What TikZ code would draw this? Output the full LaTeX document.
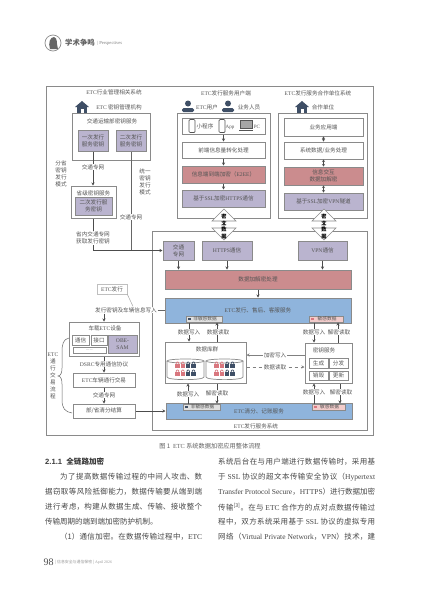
\documentclass[tikz,border=0pt]{standalone}
\usepackage{fontspec}
\setmainfont{Noto Sans CJK SC}
\newfontfamily\latn{Liberation Serif}
\newfontfamily\hdfont{Liberation Sans}
\usetikzlibrary{arrows.meta,positioning,calc,shapes.arrows}
\XeTeXlinebreaklocale "zh"
\XeTeXlinebreakskip=0pt plus 2pt
\definecolor{inkgray}{HTML}{555555}
\definecolor{linegray}{HTML}{8A8A8A}
\definecolor{purplefill}{HTML}{BAB4CF}
\definecolor{redfill}{HTML}{CB8C8E}
\definecolor{bluefill}{HTML}{8FB4DC}
\definecolor{iconblue}{HTML}{3F4F66}
\definecolor{lockred}{HTML}{D9777F}
\definecolor{pinkchip}{HTML}{F2CCCB}
\newcommand{\en}[1]{{\latn #1}}
\newcommand{\jl}[1]{\parfillskip=0pt\tolerance=10000 #1\par}
\newcommand{\houseicon}[2]{
  \fill[iconblue] ({#1-7},{#2}) -- ({#1},{#2-6}) -- ({#1+7},{#2}) -- cycle;
  \fill[iconblue] ({#1-5},{#2}) rectangle ({#1+5},{#2+6});
  \fill[white] ({#1-1.5},{#2+2}) rectangle ({#1+1.5},{#2+6});
}
\newcommand{\personicon}[2]{
  \fill[iconblue] ({#1},{#2-3.5}) circle (3);
  \fill[iconblue, rounded corners=1.5pt] ({#1-6},{#2+5}) -- ({#1-6},{#2+1}) -- ({#1+6},{#2+1}) -- ({#1+6},{#2+5}) -- cycle;
}
\newcommand{\lockicon}[3]{
  \fill[#3] ({#1-2.2},{#2}) rectangle ({#1+2.2},{#2+3.6});
  \draw[#3, line width=.7pt, rounded corners=1pt] ({#1-1.3},{#2}) -- ({#1-1.3},{#2-2}) -- ({#1+1.3},{#2-2}) -- ({#1+1.3},{#2});
}
\tikzset{
  sz/.style 2 args={minimum width=#1pt, minimum height=#2pt},
  every node/.style={inner sep=0pt, text=inkgray, font=\fontsize{5.6}{7}\selectfont, align=center},
  frame/.style={draw=linegray, line width=1pt},
  whitebox/.style={frame, fill=white},
  purplebox/.style={draw=linegray, line width=1pt, fill=purplefill},
  redbox/.style={draw=linegray, line width=1pt, fill=redfill},
  bluebox/.style={draw=linegray, line width=1pt, fill=bluefill},
  chipbox/.style={draw=linegray, line width=.5pt, fill=black!12, font=\fontsize{4.7}{5}\selectfont},
  pinkbox/.style={chipbox, fill=pinkchip},
  tag/.style={fill=white, inner xsep=.6pt, inner ysep=.8pt},
  arr/.style={draw=black!70, line width=.5pt, -{Stealth[length=3pt,width=3pt]}},
  arrboth/.style={draw=black!70, line width=.5pt, {Stealth[length=2.5pt,width=3pt]}-{Stealth[length=2.5pt,width=3pt]}},
  plainline/.style={draw=black!60, line width=.5pt},
  cipher/.style={draw=linegray, line width=.6pt, fill=white, double arrow, shape border rotate=90,
    minimum width=24pt, minimum height=31pt, double arrow head extend=8pt, double arrow head indent=0pt},
  bodytext/.style={anchor=west, text width=157pt, align=justify, text=black!72, font=\fontsize{7.5}{9}\selectfont}
}
\begin{document}
\begin{tikzpicture}[x=1pt, y=-1pt]
  \useasboundingbox[fill=white] (0,0) rectangle (427,603);

  % page head
  \node[circle, draw=black!45, line width=.7pt, minimum size=16pt] (logo) at (53,43) {};
  \fill[black!60] (50,49) .. controls (48,43) and (50,37) .. (54,37) .. controls (58,38) and (56,43) .. (58,49) -- cycle;
  \node[font=\bfseries\fontsize{7.4}{8}\selectfont, text=black!62] (brand) at (80,43) {学术争鸣};
  \node[anchor=west, text=black!50, font=\latn\fontsize{4.6}{5}\selectfont] (brandsub) at (97,43) {| Perspectives};

  % outer frame
  \node[frame, sz={327}{349}] (outer) at (209.5,260.5) {};
  \node (tmgmt) at (114,92) {\en{ETC}行业管理相关系统};
  \node (tuser) at (226,93) {\en{ETC}发行服务用户端};
  \node (tpart) at (318,93) {\en{ETC}发行服务合作单位系统};

  % key management side
  \houseicon{82}{107}
  \node (torg) at (119,107) {\en{ETC} 密钥管理机构};
  \node[frame, sz={78}{47}] (minist) at (111,136.5) {};
  \node (tminist) at (112,121) {交通运输部密钥服务};
  \node[purplebox, sz={30}{21}] (keyone) at (93,140.5) {一次发行\\服务密钥};
  \node[purplebox, sz={30}{21}] (keytwo) at (131,140.5) {二次发行\\服务密钥};
  \node[frame, sz={45}{32}] (prov) at (93.5,202) {};
  \node (tprov) at (93.5,193) {省级密钥服务};
  \node[purplebox, sz={37}{18}] (provkey) at (93.5,206) {二次发行服\\务密钥};

  % user side
  \node[frame, sz={93}{105}] (userbox) at (223.5,165.5) {};
  \personicon{188}{107}
  \node (tetcuser) at (207,107) {\en{ETC}用户};
  \personicon{228}{107}
  \node (tstaff) at (249,107) {业务人员};
  \node[frame, sz={83}{16}] (ui) at (223.5,126) {};
  \node[draw=inkgray, line width=.7pt, rounded corners=1pt, sz={6}{13}] (phonea) at (192,126) {};
  \node (tmini) at (205,126) {小程序};
  \node[draw=inkgray, line width=.7pt, rounded corners=1pt, sz={6}{13}] (phoneb) at (222,126) {};
  \node[font=\latn\fontsize{5}{5}\selectfont] (tapp) at (230,127.5) {App};
  \node[draw=inkgray, line width=.7pt, fill=black!35, sz={12}{8}] (screen) at (246,124.5) {};
  \node[fill=inkgray, sz={14}{1.6}] (kbd) at (246,130.5) {};
  \node[font=\latn\fontsize{5}{5}\selectfont] (tpc) at (257,127) {PC};
  \node[frame, sz={83}{16}] (front) at (223.5,150) {前端信息量转化处理};
  \node[redbox, sz={83}{17}] (etoe) at (223.5,174.5) {信息端到端加密（\en{E2EE}）};
  \node[purplebox, sz={83}{17}] (sslh) at (223.5,198.5) {基于\en{SSL}加密\en{HTTPS}通信};
  \draw[arr] (ui.south) -- (front.north);
  \draw[arr] (front.south) -- (etoe.north);
  \draw[arr] (etoe.south) -- (sslh.north);

  % partner side
  \node[frame, sz={89}{105}] (partbox) at (322.5,165.5) {};
  \houseicon{302}{107}
  \node (tpartner) at (323,107) {合作单位};
  \node[frame, sz={79}{18}] (app) at (323.5,127) {业务应用端};
  \node[frame, sz={79}{17}] (biz) at (323.5,150.5) {系统数据/业务处理};
  \node[redbox, sz={79}{18}] (xchg) at (323.5,176) {信息交互\\数据加解密};
  \node[purplebox, sz={79}{17}] (sslv) at (323.5,201.5) {基于\en{SSL}加密\en{VPN}隧道};
  \draw[arrboth] (app.south) -- (biz.north);
  \draw[arrboth] (biz.south) -- (xchg.north);
  \draw[arrboth] (xchg.south) -- (sslv.north);

  % service system
  \node[frame, sz={215}{199}] (sys) at (259.5,330.5) {};
  \node (tsys) at (256,426) {\en{ETC}发行服务系统};
  \node[cipher] (ciphera) at (224,224.5) {};
  \node[cipher] (cipherb) at (324,224.5) {};
  \node[text=black, font=\bfseries\fontsize{5.2}{6.9}\selectfont] (tciphera) at (224,226.5) {密\\文\\数\\据};
  \node[text=black, font=\bfseries\fontsize{5.2}{6.9}\selectfont] (tcipherb) at (324,226.5) {密\\文\\数\\据};
  \node[purplebox, sz={31}{19}] (net) at (178.5,250.5) {交通\\专网};
  \node[purplebox, sz={50}{19}] (https) at (227,250.5) {\en{HTTPS}通信};
  \node[purplebox, sz={49}{19}] (vpn) at (322.5,250.5) {\en{VPN}通信};
  \node[redbox, sz={186}{19}] (crypt) at (258,279.5) {数据加解密处理};
  \node[bluebox, sz={186}{25}] (svc) at (258,310.5) {};
  \node (tsvc) at (258,310) {\en{ETC}发行、售后、客服服务};
  \node[chipbox, sz={36}{6.5}] (chipna) at (204,319) {\ \ 非敏感数据};
  \node[pinkbox, sz={34}{6.5}] (chipsa) at (326,319) {\ \ 敏感数据};
  \node[whitebox, sz={81}{41}] (db) at (205.5,362.5) {};
  \node (tdb) at (207,349) {数据库群};
  \foreach \cx in {185.5,224.5} {
    \draw[draw=linegray, line width=.7pt, fill=white] ({\cx-18.5},361) -- ({\cx-18.5},377) .. controls ({\cx-18.5},380.5) and ({\cx+18.5},380.5) .. ({\cx+18.5},377) -- ({\cx+18.5},361);
    \draw[draw=linegray, line width=.7pt, fill=white] (\cx,361) ellipse [x radius=18.5, y radius=2];
    \foreach \ly in {364,372} {
      \lockicon{\cx-8}{\ly}{lockred}
      \lockicon{\cx-2.7}{\ly}{lockred}
      \lockicon{\cx+2.7}{\ly}{iconblue}
      \lockicon{\cx+8}{\ly}{iconblue}
    }
  }
  \node[whitebox, sz={47}{40}] (keysvc) at (328.5,363) {};
  \node (tkeysvc) at (324,350) {密钥服务};
  \node[frame, sz={19}{10}] (gen) at (318.5,363) {生成};
  \node[frame, sz={19}{10}] (dist) at (338.5,363) {分发};
  \node[frame, sz={19}{9}] (destroy) at (318.5,375.5) {销毁};
  \node[frame, sz={19}{9}] (renew) at (338.5,375.5) {更新};
  \node[bluebox, sz={186}{16}] (settle) at (259,411) {};
  \node (tsettle) at (259,411.5) {\en{ETC}清分、记账服务};
  \node[chipbox, sz={37}{6.5}] (chipnb) at (201.5,407) {\ \ 非敏感数据};
  \node[pinkbox, sz={33}{6.5}] (chipsb) at (328.5,407) {\ \ 敏感数据};
  \foreach \chipname/\chipcol in {chipna/iconblue,chipsa/lockred,chipnb/iconblue,chipsb/lockred}
    \fill[\chipcol] ([xshift=2pt,yshift=1.2pt]\chipname.west) rectangle +(3,2.6);

  \draw[arr] (net.south) -- (net.south |- crypt.north);
  \draw[arr] (https.south) -- (https.south |- crypt.north);
  \draw[arr] (vpn.south) -- (vpn.south |- crypt.north);
  \draw[arr] (crypt.south) -- (svc.north);
  \draw[arr] ([xshift=-15pt]chipna.south) -- ([xshift=-15pt]chipna.south |- db.north);
  \draw[arr] ([xshift=13pt]chipna.south |- db.north) -- ([xshift=13pt]chipna.south);
  \draw[arr] ([xshift=-12pt]chipsa.south) -- ([xshift=-12pt]chipsa.south |- keysvc.north);
  \draw[arr] ([xshift=12pt]chipsa.south |- keysvc.north) -- ([xshift=12pt]chipsa.south);
  \draw[arr] ([xshift=-13.5pt]chipnb.north) -- ([xshift=-13.5pt]chipnb.north |- db.south);
  \draw[arr] ([xshift=15.5pt]chipnb.north |- db.south) -- ([xshift=15.5pt]chipnb.north);
  \draw[arr] ([xshift=-14.5pt]chipsb.north) -- ([xshift=-14.5pt]chipsb.north |- keysvc.south);
  \draw[arr] ([xshift=11.5pt]chipsb.north |- keysvc.south) -- ([xshift=11.5pt]chipsb.north);
  \draw[arr, draw=black!50, line width=.8pt] ([yshift=8pt]keysvc.west) -- ([yshift=8pt]keysvc.west -| db.east);
  \draw[arr, draw=black!50, line width=.8pt, dashed] ([yshift=-4pt]keysvc.west -| db.east) -- ([yshift=-4pt]keysvc.west);
  \node[tag] (wa) at (189,332) {数据写入};
  \node[tag] (ra) at (218,332) {数据读取};
  \node[tag] (wb) at (314,332) {数据写入};
  \node[tag] (rb) at (339,332) {解密读取};
  \node[tag] (wc) at (188,394) {数据写入};
  \node[tag] (rc) at (217,393) {解密读取};
  \node[tag] (wd) at (314,392) {数据写入};
  \node[tag] (rd) at (341,392) {解密读取};
  \node[tag] (encw) at (275,355) {加密写入};
  \node[tag] (datr) at (275,367) {数据读取};

  % connectors on the left
  \draw[arr] (keyone.south) -- (keyone.south |- prov.north);
  \draw[plainline] (keytwo.south) -- (keytwo.south |- net.west);
  \draw[arr] (prov.south) -- (prov.south |- net.west) -- (net.west);
  \node[tag] (netone) at (93,167) {交通专网};
  \node[tag] (nettwo) at (131,217) {交通专网};
  \node[tag] (getkey) at (93,238) {省内交通专网\\获取发行密钥};
  \node (tmodea) at (61,174) {分省\\密钥\\发行\\模式};
  \node (tmodeb) at (145,182) {统一\\密钥\\发行\\模式};

  % vehicle side
  \node[draw=black!25, line width=.7pt, sz={30}{10}] (issue) at (112,289) {\en{ETC}发行};
  \node[tag] (write) at (126,310) {发行密钥及车辆信息写入};
  \node[frame, sz={70}{34}] (obu) at (104,339) {};
  \node (tobu) at (105,328) {车载\en{ETC}设备};
  \node[frame, sz={17}{10}] (comm) at (80.5,340) {通信};
  \node[frame, sz={16}{10}] (port) at (99,340) {接口};
  \node[purplebox, sz={29}{18}] (sam) at (122.5,344) {\en{OBE-}\\\en{SAM}};
  \node[frame, sz={33}{6}, font=\fontsize{4}{4}\selectfont] (slot) at (89.5,350) {......};
  \node[frame, sz={62}{14}] (trade) at (104,380) {\en{ETC}车辆通行交易};
  \node[frame, sz={62}{14}] (clear) at (104,411) {部/省清分结算};
  \draw[draw=black!35, line width=.5pt] (issue.south east) -- ([xshift=7pt]write.north);
  \draw[plainline] (write.east) -- (svc.west |- write.east);
  \draw[arr] (write.south -| obu.north) -- (obu.north);
  \draw[arr] (obu.south) -- (trade.north);
  \draw[arr] (trade.south) -- (clear.north);
  \draw[arr] (clear.east) -- (settle.west);
  \node[tag] (dsrc) at (104,364) {\en{DSRC}专用通信协议};
  \node[tag] (netthree) at (104,395) {交通专网};
  \node (tflow) at (53,375.5) {\en{ETC}\\通\\行\\交\\易\\流\\程};
  \draw[plainline] (69,338) .. controls (63,339) and (62,345) .. (62,352) -- (62,368) .. controls (62,372) and (61,376) .. (58,376) .. controls (61,376) and (62,380) .. (62,384) -- (62,400) .. controls (62,408) and (65,412) .. (72,413);

  % text of the page
  \node[text=black!62, font=\fontsize{6.2}{7}\selectfont] (caption) at (210,446) {图 1 \ \en{ETC} 系统数据加密应用整体流程};
  \node[anchor=west, text=black!78, font=\hdfont\bfseries\fontsize{7.6}{9}\selectfont] (sechead) at (45,462) {2.1.1 \ {\setmainfont{Noto Sans CJK SC}\rmfamily\bfseries 全链路加密}};
  \node[bodytext, text width=142pt] (la) at (60,477) {\jl{为了提高数据传输过程的中间人攻击、数}};
  \node[bodytext] (lb) at (45,492) {\jl{据窃取等风险抵御能力，数据传输要从端到端}};
  \node[bodytext] (lc) at (45,507) {\jl{进行考虑，构建从数据生成、传输、接收整个}};
  \node[anchor=west, text=black!72, font=\fontsize{7.5}{9}\selectfont] (ld) at (45,522) {传输周期的端到端加密防护机制。};
  \node[bodytext, text width=142pt] (le) at (60,537) {\jl{（1）通信加密。在数据传输过程中，\en{ETC}}};
  \node[bodytext] (ra1) at (218,462) {\jl{系统后台在与用户端进行数据传输时，采用基}};
  \node[bodytext] (ra2) at (218,477) {\jl{于 \en{SSL} 协议的超文本传输安全协议（\en{Hypertext}}};
  \node[bodytext] (ra3) at (218,492) {\jl{\en{Transfer Protocol Secure}，\en{HTTPS}）进行数据加密}};
  \node[bodytext] (ra4) at (218,507) {\jl{传输\textsuperscript{[3]}。在与 \en{ETC} 合作方的点对点数据传输过}};
  \node[bodytext] (ra5) at (218,522) {\jl{程中，双方系统采用基于 \en{SSL} 协议的虚拟专用}};
  \node[bodytext] (ra6) at (218,537) {\jl{网络（\en{Virtual Private Network}，\en{VPN}）技术，建}};
  \node[anchor=west, text=black!70, font=\latn\fontsize{10}{11}\selectfont] (pageno) at (43.5,562) {98};
  \node[anchor=west, text=black!40, font=\fontsize{3.9}{4.5}\selectfont] (journal) at (55,562) {| 信息安全与通信保密 | \en{April 2026}};
\end{tikzpicture}
\end{document}
